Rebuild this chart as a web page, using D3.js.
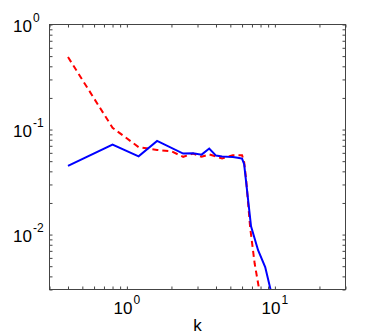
<!DOCTYPE html>
<html>
<head>
<meta charset="utf-8">
<script src="https://cdn.jsdelivr.net/npm/d3@7"></script>
<style>
  body { margin: 0; background: #fff; }
  text { font-family: "Liberation Sans", Arial, Helvetica, sans-serif; fill: #000; }
</style>
</head>
<body>
<script>
// Spectrum data
var kBlue = [0.4, 0.8, 1.2, 1.6, 2.4, 2.8, 3.2, 3.6, 4.0, 4.4, 4.8, 5.2, 5.6, 6.0, 6.2, 6.9, 7.7, 8.6, 9.4];
var eBlue = [0.045, 0.072, 0.0556, 0.078, 0.059, 0.0596, 0.0577, 0.066, 0.0565, 0.0555, 0.055, 0.0547, 0.054, 0.0529, 0.0467, 0.012, 0.0071, 0.0049, 0.0029];

var kRed = [0.4, 0.8, 1.2, 1.6, 2.0, 2.4, 2.8, 3.2, 3.6, 4.4, 5.2, 6.0, 6.2, 6.4, 6.8, 7.3, 7.8, 8.1];
var eRed = [0.49, 0.104, 0.068, 0.064, 0.062, 0.055, 0.059, 0.055, 0.058, 0.053, 0.057, 0.057, 0.049, 0.033, 0.0118, 0.0053, 0.0031, 0.0025];

var xDecades = [0, 1];
var yDecades = [0, -1, -2];
var xLabel = "k";

// SVG area
var svgWidth = 382;
var svgHeight = 336;

var plot = { left: 49.5, right: 345.5, top: 24.5, bottom: 289.5 };

var svg = d3.select("body")
  .append("svg")
  .attr("width", svgWidth)
  .attr("height", svgHeight);

var xScale = d3.scaleLog().domain([0.3, 30]).range([plot.left, plot.right]);
var yScale = d3.scaleLog().domain([0.003, 1]).range([plot.bottom, plot.top]);

// minor + major tick positions
var xTicks = [];
[0.1, 1, 10].forEach(function(d) {
  for (var i = 1; i <= 9; i++) {
    var v = +(d * i).toPrecision(3);
    if (v >= 0.3 && v <= 30) xTicks.push(v);
  }
});
var yTicks = [];
[0.001, 0.01, 0.1].forEach(function(d) {
  for (var i = 1; i <= 9; i++) {
    var v = +(d * i).toPrecision(3);
    if (v >= 0.003 && v <= 1) yTicks.push(v);
  }
});
yTicks.push(1);

function styleAxis(g) {
  g.select(".domain").remove();
  g.selectAll(".tick line").attr("stroke", "#444").attr("stroke-width", 1);
}

svg.append("g")
  .attr("transform", `translate(0, ${plot.bottom})`)
  .call(d3.axisBottom(xScale).tickValues(xTicks).tickFormat("").tickSizeInner(-3).tickSizeOuter(0))
  .call(styleAxis);
svg.append("g")
  .attr("transform", `translate(0, ${plot.top})`)
  .call(d3.axisTop(xScale).tickValues(xTicks).tickFormat("").tickSizeInner(-3).tickSizeOuter(0))
  .call(styleAxis);
svg.append("g")
  .attr("transform", `translate(${plot.left}, 0)`)
  .call(d3.axisLeft(yScale).tickValues(yTicks).tickFormat("").tickSizeInner(-3).tickSizeOuter(0))
  .call(styleAxis);
svg.append("g")
  .attr("transform", `translate(${plot.right}, 0)`)
  .call(d3.axisRight(yScale).tickValues(yTicks).tickFormat("").tickSizeInner(-3).tickSizeOuter(0))
  .call(styleAxis);

// clip for the lines
svg.append("clipPath").attr("id", "clip")
  .append("rect")
  .attr("x", plot.left).attr("y", plot.top)
  .attr("width", plot.right - plot.left).attr("height", plot.bottom - plot.top);

var line = d3.line()
  .x(d => xScale(d[0]))
  .y(d => yScale(d[1]));

svg.append("path")
  .attr("d", line(d3.zip(kRed, eRed)))
  .attr("clip-path", "url(#clip)")
  .attr("fill", "none")
  .attr("stroke", "#ff0000")
  .attr("stroke-width", 2)
  .attr("stroke-dasharray", "6,4");

svg.append("path")
  .attr("d", line(d3.zip(kBlue, eBlue)))
  .attr("clip-path", "url(#clip)")
  .attr("fill", "none")
  .attr("stroke", "#0000ff")
  .attr("stroke-width", 2);

// frame
svg.append("rect")
  .attr("x", plot.left).attr("y", plot.top)
  .attr("width", plot.right - plot.left).attr("height", plot.bottom - plot.top)
  .attr("fill", "none")
  .attr("stroke", "#444")
  .attr("stroke-width", 1);

// decade labels, x axis
xDecades.forEach(function(e) {
  var t = svg.append("text")
    .attr("x", xScale(Math.pow(10, e)))
    .attr("y", 314)
    .attr("text-anchor", "middle")
    .style("font-size", "17px");
  t.append("tspan").text("10");
  t.append("tspan").attr("dy", -10.5).attr("dx", 1).style("font-size", "12px").text(e);
});

// decade labels, y axis
yDecades.forEach(function(e) {
  var y = yScale(Math.pow(10, e));
  svg.append("text")
    .attr("x", 32)
    .attr("y", y + 7.5)
    .attr("text-anchor", "end")
    .style("font-size", "17px")
    .text("10");
  svg.append("text")
    .attr("x", 33)
    .attr("y", y - 2.5)
    .attr("text-anchor", "start")
    .style("font-size", "12px")
    .text(e === 0 ? "0" : "-" + Math.abs(e));
});

svg.append("text")
  .attr("x", (plot.left + plot.right) / 2)
  .attr("y", 331)
  .attr("text-anchor", "middle")
  .style("font-size", "17px")
  .text(xLabel);
</script>
</body>
</html>
